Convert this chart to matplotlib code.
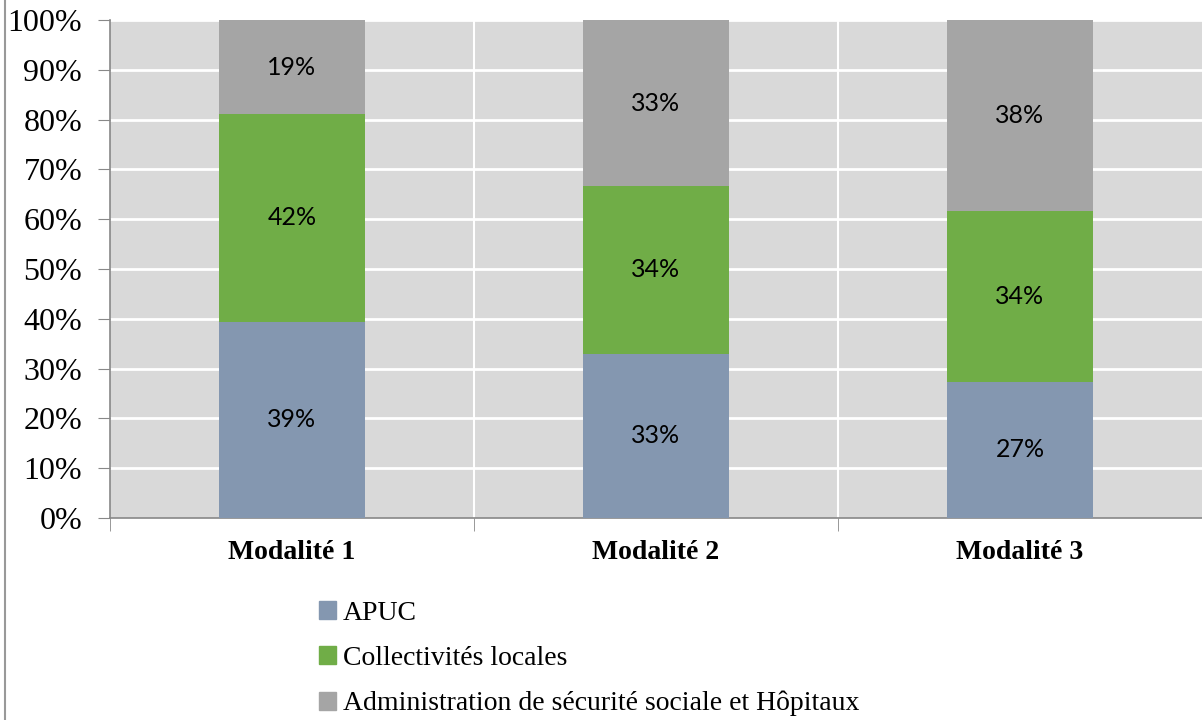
import matplotlib.pyplot as plt
import matplotlib.lines as mlines
from matplotlib.patches import Patch
import numpy as np

categories = ['Modalité 1', 'Modalité 2', 'Modalité 3']
series_names = ['APUC', 'Collectivités locales',
                'Administration de sécurité sociale et Hôpitaux']
apuc = [39.4, 33.0, 27.4]
collectivites = [41.7, 33.6, 34.2]
securite_sociale = [18.9, 33.4, 38.4]
colors = ['#8497b0', '#70ad47', '#a5a5a5']

serif = 'Liberation Serif'

fig = plt.figure(figsize=(12.02, 7.2), dpi=100)
ax = fig.add_axes([110 / 1202, 1 - 518 / 720, 1 - 110 / 1202, 498 / 720])
ax.set_facecolor('#d9d9d9')

x = np.arange(len(categories))
bottom = np.zeros(len(categories))
for name, vals, col in zip(series_names, [apuc, collectivites, securite_sociale], colors):
    vals = np.array(vals)
    ax.bar(x, vals, 0.4, bottom=bottom, color=col, zorder=3, label=name)
    for xi, b, v in zip(x, bottom, vals):
        ax.text(xi, b + v / 2, '%d%%' % round(v), ha='center', va='center',
                fontsize=18, family='Lato', color='black', zorder=4)
    bottom += vals

ax.set_xlim(-0.5, 2.5)
ax.set_ylim(0, 100)
ax.set_yticks(range(0, 101, 10))
ax.set_yticklabels(['%d%%' % v for v in range(0, 101, 10)], fontsize=23, family=serif)
ax.set_xticks(x)
ax.set_xticklabels(categories, fontsize=20, family=serif, fontweight='bold')
ax.tick_params(axis='x', length=0, pad=16)
ax.tick_params(axis='y', length=9, color='#888888', pad=11)
ax.set_xticks([-0.5, 0.5, 1.5], minor=True)
ax.tick_params(axis='x', which='minor', length=9, color='#888888')

for yv in range(10, 101, 10):
    ax.axhline(yv, color='white', lw=2, zorder=1)
for xv in [0.5, 1.5]:
    ax.axvline(xv, color='white', lw=1.5, zorder=1)

for s in ['top', 'right']:
    ax.spines[s].set_visible(False)
for s in ['left', 'bottom']:
    ax.spines[s].set_color('#888888')
    ax.spines[s].set_linewidth(1.2)

handles = [Patch(color=c) for c in colors]
fig.legend(handles, series_names, loc='upper left', bbox_to_anchor=(294 / 1202, 1 - 576 / 720),
           frameon=False, prop={'family': serif, 'size': 20}, handlelength=0.6,
           handleheight=0.6, handletextpad=0.25, labelspacing=0.72)

fig.add_artist(mlines.Line2D([5 / 1202, 5 / 1202], [0, 1], color='#999999', lw=1.5))

fig.savefig('out.png', dpi=100)
